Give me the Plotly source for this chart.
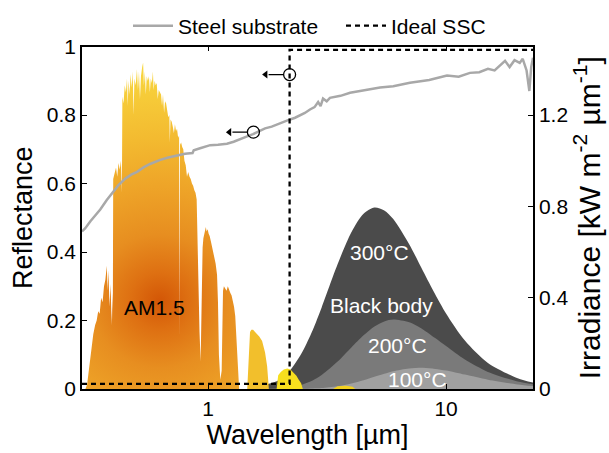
import math
import plotly.graph_objects as go

# ---------------- data ----------------
# AM1.5 solar spectrum, main part (0.3 - 1.35 um), irradiance kW m^-2 um^-1
AM_MAIN_WL = [0.305, 0.31, 0.315, 0.32, 0.329, 0.335, 0.34, 0.345, 0.35, 0.355, 0.36, 0.365,
              0.37, 0.375, 0.378, 0.381, 0.385, 0.389, 0.393, 0.396, 0.3975, 0.399, 0.405,
              0.41, 0.415, 0.42, 0.425, 0.43, 0.434, 0.436, 0.441, 0.446, 0.451, 0.456,
              0.459, 0.463, 0.468, 0.472, 0.477, 0.482, 0.486, 0.49, 0.496, 0.502, 0.507,
              0.512, 0.517, 0.522, 0.528, 0.533, 0.537, 0.542, 0.547, 0.552, 0.558, 0.564,
              0.569, 0.574, 0.58, 0.586, 0.59, 0.596, 0.602, 0.608, 0.614, 0.62, 0.627,
              0.634, 0.64, 0.646, 0.653, 0.659, 0.666, 0.672, 0.68, 0.687, 0.69, 0.695,
              0.703, 0.71, 0.718, 0.725, 0.733, 0.74, 0.748, 0.755, 0.759, 0.762, 0.77,
              0.778, 0.786, 0.795, 0.805, 0.815, 0.825, 0.835, 0.845, 0.855, 0.865, 0.875,
              0.885, 0.895, 0.9, 0.91, 0.92, 0.93, 0.937, 0.942, 0.948, 0.955, 0.962, 0.97,
              0.978, 0.985, 0.995, 1.005, 1.015, 1.03, 1.045, 1.06, 1.075, 1.09, 1.1, 1.11,
              1.125, 1.14, 1.148, 1.155, 1.165, 1.18, 1.195, 1.21, 1.225, 1.24, 1.255,
              1.27, 1.285, 1.3, 1.31, 1.32, 1.335, 1.35]
AM_MAIN_IRR = [0.0, 0.02, 0.08, 0.14, 0.24, 0.28, 0.30, 0.34, 0.33, 0.40, 0.38, 0.45,
               0.48, 0.54, 0.43, 0.52, 0.36, 0.46, 0.28, 0.42, 0.30, 0.92, 0.95,
               0.97, 0.93, 0.99, 0.96, 1.00, 0.86, 1.28, 1.25, 1.33, 1.30, 1.36,
               1.24, 1.35, 1.29, 1.38, 1.32, 1.39, 1.20, 1.36, 1.33, 1.40, 1.31,
               1.39, 1.27, 1.37, 1.41, 1.43, 1.33, 1.39, 1.29, 1.37, 1.35, 1.37,
               1.30, 1.36, 1.34, 1.39, 1.31, 1.35, 1.33, 1.34, 1.27, 1.31, 1.30,
               1.29, 1.24, 1.29, 1.21, 1.26, 1.25, 1.23, 1.19, 1.20, 1.08, 1.18,
               1.17, 1.15, 1.12, 1.16, 1.13, 1.14, 1.10, 1.11, 0.22, 1.07, 1.08,
               1.06, 1.05, 1.00, 0.98, 0.93, 0.95, 0.93, 0.92, 0.90, 0.89, 0.87,
               0.86, 0.83, 0.70, 0.40, 0.25, 0.12, 0.35, 0.55, 0.62, 0.66, 0.68, 0.70,
               0.71, 0.69, 0.70, 0.68, 0.67, 0.64, 0.61, 0.58, 0.55, 0.50, 0.38, 0.15,
               0.04, 0.08, 0.30, 0.43, 0.45, 0.44, 0.43, 0.45, 0.43, 0.42, 0.41,
               0.39, 0.36, 0.32, 0.25, 0.18, 0.08, 0.0]
# AM1.5 band 1.45 - 1.8 um
AM_B4_WL = [1.46, 1.473, 1.49, 1.50, 1.52, 1.545, 1.575, 1.607, 1.64, 1.686, 1.71, 1.735, 1.77, 1.79, 1.80]
AM_B4_IRR = [0.0, 0.10, 0.22, 0.25, 0.26, 0.26, 0.25, 0.24, 0.23, 0.21, 0.19, 0.16, 0.10, 0.05, 0.0]
# AM1.5 band 1.95 - 2.5 um
AM_B5_WL = [1.94, 1.97, 2.02, 2.08, 2.15, 2.22, 2.28, 2.35, 2.40, 2.46, 2.50]
AM_B5_IRR = [0.0, 0.06, 0.075, 0.085, 0.09, 0.085, 0.072, 0.058, 0.042, 0.025, 0.0]
# AM1.5 small band 3.4 - 4.1 um
AM_B6_WL = [3.35, 3.5, 3.8, 4.05, 4.15]
AM_B6_IRR = [0.0, 0.012, 0.014, 0.010, 0.0]

# Black body spectra
BB_WL = [1.5, 2, 2.25, 2.5, 2.75, 3, 3.5, 4, 4.5, 5, 5.5, 6, 7, 8, 9, 10, 12, 15, 20, 23.2]
BB300 = [0.003, 0.041, 0.092, 0.166, 0.257, 0.357, 0.546, 0.687, 0.768, 0.795, 0.782, 0.744,
         0.634, 0.517, 0.415, 0.331, 0.212, 0.114, 0.047, 0.028]
BB200 = [0.0, 0.003, 0.009, 0.020, 0.037, 0.061, 0.120, 0.182, 0.235, 0.274, 0.296, 0.304,
         0.292, 0.261, 0.223, 0.188, 0.129, 0.075, 0.033, 0.021]
BB100 = [0.0, 0.0, 0.0, 0.001, 0.002, 0.004, 0.012, 0.024, 0.038, 0.054, 0.067, 0.078,
         0.090, 0.093, 0.088, 0.081, 0.063, 0.041, 0.020, 0.013]

# Steel substrate reflectance
STEEL_WL = [0.295, 0.304, 0.32, 0.352, 0.375, 0.399, 0.42, 0.448, 0.475, 0.503, 0.535, 0.57,
            0.629, 0.68, 0.727, 0.80, 0.86, 0.87, 0.925, 1.02, 1.10, 1.20, 1.28, 1.36,
            1.45, 1.545, 1.64, 1.735, 1.85, 2.0, 2.1, 2.21, 2.32, 2.43, 2.55, 2.68, 2.8,
            2.9, 2.97, 3.04, 3.15, 3.25, 3.6, 3.95, 4.5, 5.28, 6.0, 7.05, 8.5, 10.1,
            11.3, 12.6, 13.8, 15.0, 16.0, 16.8, 17.7, 18.5, 19.4, 20.4, 21.0, 21.8,
            22.4, 22.8, 23.2]
STEEL_R = [0.46, 0.469, 0.49, 0.524, 0.552, 0.576, 0.595, 0.614, 0.626, 0.634, 0.647, 0.657,
           0.669, 0.676, 0.680, 0.687, 0.689, 0.697, 0.703, 0.712, 0.713, 0.716, 0.722, 0.73,
           0.737, 0.744, 0.752, 0.761, 0.766, 0.776, 0.781, 0.787, 0.792, 0.799, 0.806, 0.816,
           0.823, 0.838, 0.826, 0.848, 0.84, 0.85, 0.856, 0.865, 0.872, 0.88, 0.884, 0.894,
           0.902, 0.915, 0.912, 0.923, 0.925, 0.935, 0.93, 0.944, 0.958, 0.94, 0.96,
           0.952, 0.964, 0.93, 0.87, 0.94, 0.967]

# Ideal SSC reflectance (step)
SSC_WL = [0.295, 2.2, 2.2, 23.2]
SSC_R = [0.015, 0.015, 0.99, 0.99]

# circle markers (curve belongs to left axis)
MARK_WL = [2.2, 1.55]
MARK_R = [0.918, 0.75]

X_RANGE_UM = [0.295, 23.2]
# invisible (clipped) floor of the AM1.5 polygon, sized so the radial gradient is round
GRAD_FLOOR_Y = -0.66
GRAD_FLOOR_X = [0.0586, 6.72]

FONT = "Liberation Sans, Arial, Helvetica, sans-serif"
W, H = 609, 453
ML, MR, MT, MB = 82, 76, 44, 64

fig = go.Figure()

# black bodies (irradiance axis y)
for vals, col in [(BB300, "#4b4b4b"), (BB200, "#7a7a7a"), (BB100, "#a0a0a0")]:
    fig.add_trace(go.Scatter(x=BB_WL, y=vals, yaxis="y", mode="lines",
                             line=dict(width=0, color=col, shape="spline", smoothing=0.8),
                             fill="tozeroy", fillcolor=col, showlegend=False,
                             hoverinfo="skip"))

# AM1.5 main part with radial gradient
fig.add_trace(go.Scatter(
    x=AM_MAIN_WL + [GRAD_FLOOR_X[1], GRAD_FLOOR_X[0]],
    y=AM_MAIN_IRR + [GRAD_FLOOR_Y, GRAD_FLOOR_Y],
    yaxis="y", mode="lines", line=dict(width=0, color="#e8870f"),
    fill="toself",
    fillgradient=dict(type="radial",
                      colorscale=[[0, "#d35606"], [0.12, "#de7012"], [0.28, "#e78e20"],
                                  [0.48, "#eea428"], [0.68, "#f3ba30"], [0.85, "#f6ca38"],
                                  [1, "#f8d840"]]),
    showlegend=False, hoverinfo="skip"))

for wl, irr, col in [(AM_B4_WL, AM_B4_IRR, "#f2bf2c"), (AM_B5_WL, AM_B5_IRR, "#f7df1e"),
                     (AM_B6_WL, AM_B6_IRR, "#f2d020")]:
    fig.add_trace(go.Scatter(x=wl, y=irr, yaxis="y", mode="lines",
                             line=dict(width=0, color=col), fill="tozeroy", fillcolor=col,
                             showlegend=False, hoverinfo="skip"))

# reflectance lines (left axis y2, drawn on top)
fig.add_trace(go.Scatter(x=STEEL_WL, y=STEEL_R, yaxis="y2", mode="lines",
                         name="Steel substrate", line=dict(color="#a8a8a8", width=2.5)))
fig.add_trace(go.Scatter(x=SSC_WL, y=SSC_R, yaxis="y2", mode="lines", name="Ideal SSC",
                         line=dict(color="black", width=2.3, dash="5px,4px")))

# circles + left-pointing arrows
ppd = (W - ML - MR) / (math.log10(X_RANGE_UM[1]) - math.log10(X_RANGE_UM[0]))  # px per decade
fig.add_trace(go.Scatter(x=MARK_WL, y=MARK_R, yaxis="y2", mode="markers", showlegend=False,
                         marker=dict(symbol="circle-open", size=12, color="black",
                                     line=dict(width=1.3, color="black")),
                         hoverinfo="skip"))
for mx, my in zip(MARK_WL, MARK_R):
    tail = mx * 10 ** (-6 / ppd)
    tip = mx * 10 ** (-21 / ppd)
    head = mx * 10 ** (-24 / ppd)
    fig.add_trace(go.Scatter(x=[tail, tip], y=[my, my], yaxis="y2", mode="lines",
                             line=dict(color="black", width=1.3), showlegend=False,
                             hoverinfo="skip"))
    fig.add_trace(go.Scatter(x=[head], y=[my], yaxis="y2", mode="markers",
                             marker=dict(symbol="triangle-left", size=7, color="black"),
                             showlegend=False, hoverinfo="skip"))

# labels (positions in reflectance units)
labels = [("AM1.5", 0.593, 0.237, "black"), ("300°C", 5.23, 0.40, "white"),
          ("Black body", 5.33, 0.243, "white"), ("200°C", 6.28, 0.127, "white"),
          ("100°C", 7.55, 0.028, "white")]
for t, lx, ly, c in labels:
    fig.add_annotation(x=math.log10(lx), y=ly, xref="x", yref="y2", text=t, showarrow=False,
                       font=dict(size=21, color=c, family=FONT))

axis_common = dict(showgrid=False, zeroline=False, showline=True, linecolor="black",
                   linewidth=1.5, ticks="inside", ticklen=5, tickcolor="black",
                   automargin=False,
                   tickfont=dict(size=21, color="black", family=FONT))

fig.update_layout(
    width=W, height=H,
    margin=dict(l=ML, r=MR, t=MT, b=MB),
    paper_bgcolor="white", plot_bgcolor="white",
    font=dict(family=FONT, color="black"),
    xaxis=dict(type="log", range=[math.log10(X_RANGE_UM[0]), math.log10(X_RANGE_UM[1])],
               tickvals=[1, 10], ticktext=["1", "10"], mirror="ticks",
               title=dict(text="Wavelength [µm]", font=dict(size=27, family=FONT), standoff=4),
               **axis_common),
    yaxis=dict(range=[0, 1.5], side="right",
               tickvals=[0, 0.4, 0.8, 1.2], ticktext=["0", "0.4", "0.8", "1.2"],
               title=dict(text="Irradiance [kW m<sup>-2</sup> µm<sup>-1</sup>]",
                          font=dict(size=30, family=FONT), standoff=4),
               **axis_common),
    yaxis2=dict(range=[0, 1], overlaying="y", side="left",
                tickvals=[0, 0.2, 0.4, 0.6, 0.8, 1],
                ticktext=["0", "0.2", "0.4", "0.6", "0.8", "1"],
                title=dict(text="Reflectance", font=dict(size=27, family=FONT), standoff=6),
                **axis_common),
    legend=dict(orientation="h", xref="container", yref="container",
                x=128 / W, xanchor="left", y=1 - 26 / H, yanchor="middle",
                itemwidth=40, entrywidthmode="pixels", entrywidth=158,
                font=dict(size=21, family=FONT), bgcolor="rgba(0,0,0,0)"),
)

fig.write_html("out.html", config={"displayModeBar": False},
               post_script="document.body.style.margin='0';document.body.style.overflow='hidden';")
